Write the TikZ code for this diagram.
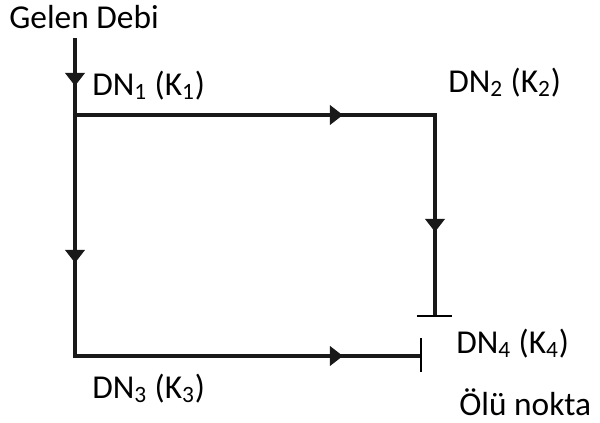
\documentclass[tikz,border=0pt]{standalone}
\usepackage{fontspec}
\setmainfont{Carlito}
\usetikzlibrary{arrows.meta}

\tikzset{
  pipe/.style={line width=2.3pt, draw=black!90},
  flow/.style={pipe, -{Triangle[length=7.5pt, width=11pt]}},
  lbl/.style={font=\fontsize{19}{22}\selectfont, inner sep=0pt, anchor=base west}
}

\begin{document}
\begin{tikzpicture}[x=0.02cm, y=-0.02cm]
  \useasboundingbox (0,0) rectangle (600,423);

  % junctions
  \coordinate (top) at (75,38);
  \coordinate (n1) at (75,115);
  \coordinate (n2) at (435,115);
  \coordinate (n3) at (75,356);
  \coordinate (n2end) at (435,316);
  \coordinate (n3end) at (421,356);

  % arrow tips
  \coordinate (a0) at (75,86);
  \coordinate (a1) at (343,115);
  \coordinate (a2) at (435,232);
  \coordinate (a3) at (75,263);
  \coordinate (a4) at (343,356);

  \draw[pipe] (top) -- (n3) -- (n3end);
  \draw[pipe] (n1) -- (n2) -- (n2end);
  \draw[flow] (top) -- (a0);
  \draw[flow] (n1) -- (a1);
  \draw[flow] (n2) -- (a2);
  \draw[flow] (n1) -- (a3);
  \draw[flow] (n3) -- (a4);

  % dead ends
  \draw[line width=1.6pt] (417,316) -- (452,316);
  \draw[line width=1.6pt] (421,338) -- (421,372);

  \node[lbl] (gelen) at (9,28) {Gelen Debi};
  \node[lbl] (dn1) at (92,95) {DN\textsubscript{1} (K\textsubscript{1})};
  \node[lbl] (dn2) at (448,92) {DN\textsubscript{2} (K\textsubscript{2})};
  \node[lbl] (dn4) at (456,353) {DN\textsubscript{4} (K\textsubscript{4})};
  \node[lbl] (dn3) at (92,398) {DN\textsubscript{3} (K\textsubscript{3})};
  \node[lbl] (olu) at (459,415) {Ölü nokta};
\end{tikzpicture}
\end{document}
